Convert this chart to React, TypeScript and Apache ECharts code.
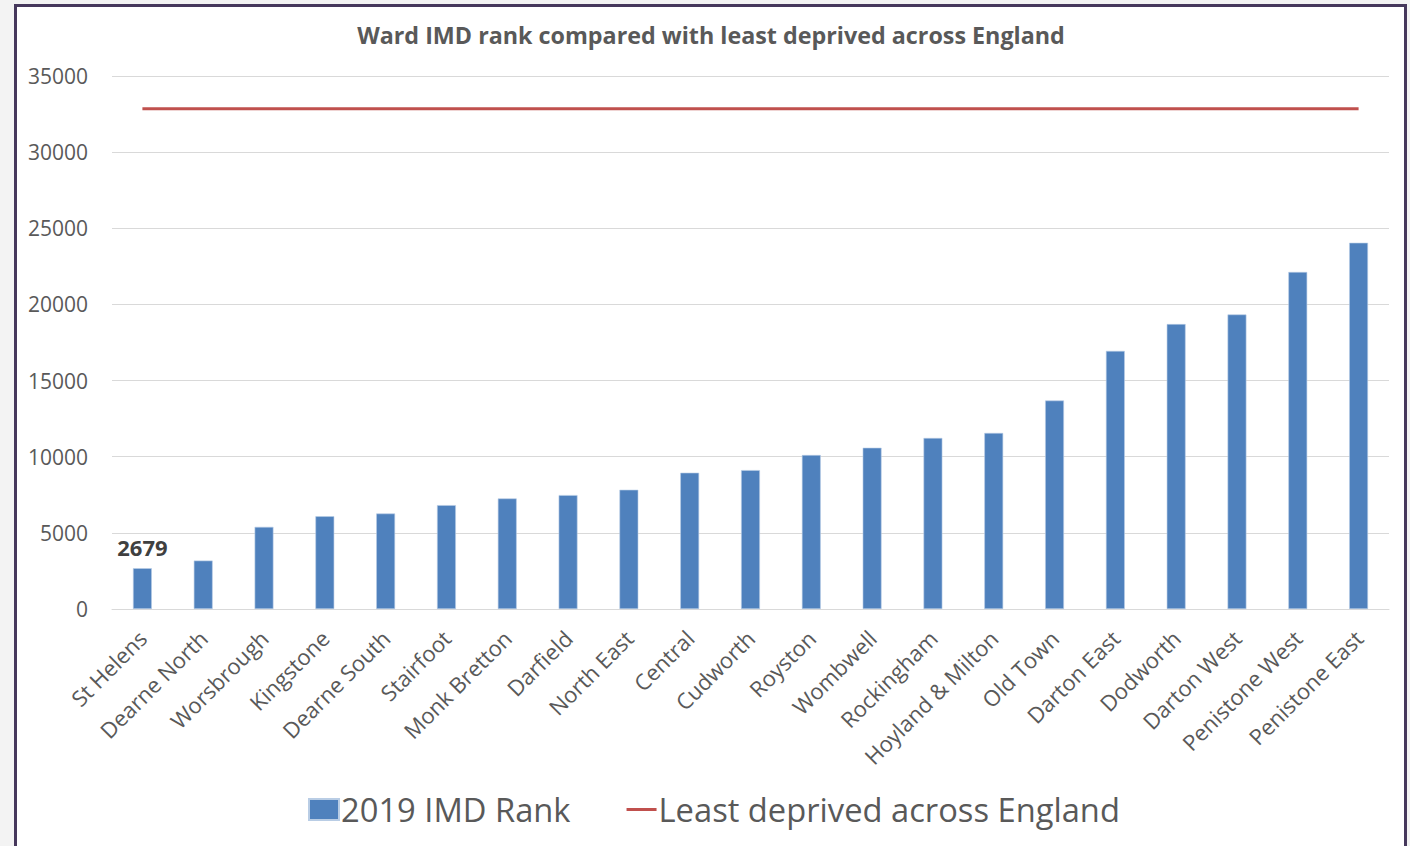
import React, { useEffect, useRef } from "react";
import * as echarts from "echarts";

// Barnsley wards, ordered from most to least deprived
const wards: string[] = [
  "St Helens",
  "Dearne North",
  "Worsbrough",
  "Kingstone",
  "Dearne South",
  "Stairfoot",
  "Monk Bretton",
  "Darfield",
  "North East",
  "Central",
  "Cudworth",
  "Royston",
  "Wombwell",
  "Rockingham",
  "Hoyland & Milton",
  "Old Town",
  "Darton East",
  "Dodworth",
  "Darton West",
  "Penistone West",
  "Penistone East",
];

// 2019 IMD rank of each ward
const imdRank2019: number[] = [
  2679, 3180, 5395, 6090, 6270, 6820, 7260, 7480, 7830, 8950, 9120, 10110,
  10590, 11230, 11560, 13690, 16950, 18710, 19340, 22130, 24050,
];

// Rank of the least deprived area in England
const leastDeprivedRank = 32844;

const yTicks = { min: 0, max: 35000, interval: 5000 };

const FONT = "'Open Sans', 'Liberation Sans', sans-serif";
const TEXT_GREY = "#595959";

// Legend swatch for the reference line: a 30x3 bar inside a 30x21 box
const LINE_ICON =
  "path://M0,0 L0.001,0 L0.001,0.001 Z M0,9 L30,9 L30,12 L0,12 Z M29.999,20.999 L30,21 L29.999,21 Z";

export default function App() {
  const ref = useRef<HTMLDivElement>(null);

  useEffect(() => {
    if (!ref.current) return;
    const chart = echarts.init(ref.current, undefined, { renderer: "svg" });
    chart.setOption({
      animation: false,
      backgroundColor: "transparent",
      textStyle: { fontFamily: FONT },
      title: {
        text: "Ward IMD rank compared with least deprived across England",
        left: 706,
        top: 18,
        textAlign: "center",
        textStyle: {
          fontFamily: FONT,
          fontSize: 23.3,
          fontWeight: "bold",
          color: TEXT_GREY,
        },
      },
      legend: {
        left: 308,
        top: 793,
        padding: 0,
        itemWidth: 30,
        itemHeight: 21,
        itemGap: 56,
        textStyle: { fontFamily: FONT, fontSize: 32.7, color: TEXT_GREY, padding: [0, 0, 0, -3] },
        data: [
          { name: "2019 IMD Rank", icon: "rect" },
          { name: "Least deprived across England", icon: LINE_ICON },
        ],
      },
      grid: { left: 112, right: 21, top: 76, bottom: 237, containLabel: false },
      xAxis: {
        type: "category",
        data: wards,
        axisLine: { show: true, lineStyle: { color: "#d9d9d9", width: 1 } },
        axisTick: { show: false },
        axisLabel: {
          rotate: 45,
          interval: 0,
          margin: 25,
          fontFamily: FONT,
          fontSize: 22,
          color: TEXT_GREY,
        },
      },
      yAxis: {
        type: "value",
        min: yTicks.min,
        max: yTicks.max,
        interval: yTicks.interval,
        axisLine: { show: false },
        axisTick: { show: false },
        splitLine: { lineStyle: { color: "#d9d9d9", width: 1 } },
        axisLabel: {
          margin: 24,
          fontFamily: FONT,
          fontSize: 21,
          color: TEXT_GREY,
          formatter: (v: number) => String(v),
        },
      },
      series: [
        {
          name: "2019 IMD Rank",
          type: "bar",
          data: imdRank2019.map((v, i) =>
            i === 0
              ? {
                  value: v,
                  label: {
                    show: true,
                    position: "top",
                    distance: 10,
                    fontFamily: FONT,
                    fontSize: 22,
                    fontWeight: "bold",
                    color: "#404040",
                  },
                }
              : v
          ),
          barWidth: "31%",
          itemStyle: {
            color: "#4f81bd",
            borderColor: "#b9cde5",
            borderWidth: 0.6,
          },
        },
        {
          name: "Least deprived across England",
          type: "line",
          data: wards.map(() => leastDeprivedRank),
          symbol: "none",
          lineStyle: { color: "#c0504d", width: 3 },
          itemStyle: { color: "#c0504d" },
        },
      ],
    });
    return () => chart.dispose();
  }, []);

  return (
    <div
      style={{
        position: "fixed",
        left: 0,
        top: 0,
        width: 1410,
        height: 846,
        background: "#f3f3f3",
        overflow: "hidden",
      }}
    >
      <div
        style={{
          position: "absolute",
          left: 14,
          top: 4,
          width: 1393,
          height: 900,
          boxSizing: "border-box",
          border: "3px solid #46385c",
          background: "#ffffff",
        }}
      />
      <div
        ref={ref}
        style={{ position: "absolute", left: 0, top: 0, width: 1410, height: 846 }}
      />
    </div>
  );
}
